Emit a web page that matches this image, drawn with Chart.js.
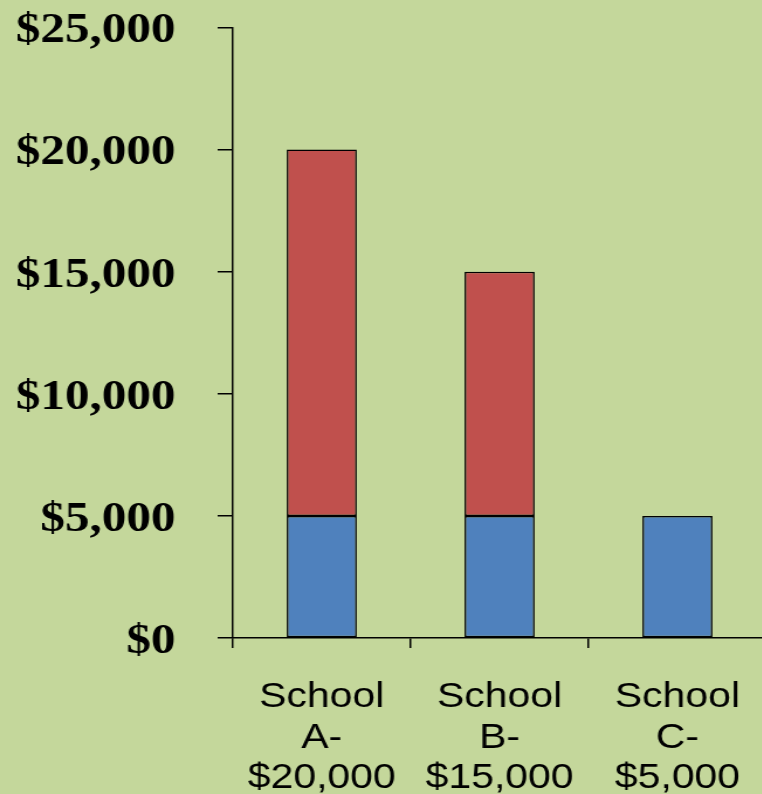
<!DOCTYPE html>
<html>
<head>
<meta charset="utf-8">
<script src="https://cdn.jsdelivr.net/npm/chart.js@4"></script>
<style>
    html, body { margin: 0; padding: 0; overflow: hidden; background: #c4d79b; }
    #wrap { width: 762px; height: 794px; overflow: hidden; }
    /* the original slide is stretched sideways, so the canvas is too */
    #chart { display: block; transform-origin: 0 0; transform: scaleX(1.17); }
</style>
</head>
<body>
<div id="wrap"><canvas id="chart" width="655" height="794"></canvas></div>
<script>
const categories = [['School', 'A-', '$20,000'], ['School', 'B-', '$15,000'], ['School', 'C-', '$5,000']];
const baseValues = [5000, 5000, 5000];
const extraValues = [15000, 10000, null];
const yTicks = [0, 5000, 10000, 15000, 20000, 25000];

const ctx = document.getElementById('chart').getContext('2d');
new Chart(ctx, {
    type: 'bar',
    data: {
        labels: categories,
        datasets: [{
            data: baseValues,
            backgroundColor: '#4f81bd',
            borderColor: '#000000',
            borderWidth: 1.5,
            borderSkipped: false
        }, {
            data: extraValues,
            backgroundColor: '#c0504d',
            borderColor: '#000000',
            borderWidth: 1.5,
            borderSkipped: false
        }]
    },
    options: {
        responsive: false,
        animation: false,
        barPercentage: 0.394,
        categoryPercentage: 1,
        layout: { padding: { top: 27.5, right: 0, bottom: 0, left: 0 } },
        scales: {
            x: {
                stacked: true,
                offset: true,
                grid: {
                    offset: true,
                    drawOnChartArea: false,
                    color: '#000000',
                    lineWidth: 1.5,
                    tickLength: 10
                },
                border: { color: '#000000', width: 1.5 },
                ticks: {
                    color: '#000000',
                    padding: 29,
                    maxRotation: 0,
                    autoSkip: false,
                    font: { family: '"Liberation Sans", Arial, sans-serif', size: 35, lineHeight: 1.16 }
                },
                afterFit: function (scale) {
                    scale.height = 156;
                    scale.paddingLeft = 0;
                    scale.paddingRight = 0;
                }
            },
            y: {
                stacked: true,
                min: 0,
                max: 25000,
                afterBuildTicks: function (scale) {
                    scale.ticks = yTicks.map(v => ({ value: v }));
                },
                grid: {
                    drawOnChartArea: false,
                    color: '#000000',
                    lineWidth: 1.5,
                    tickLength: 13
                },
                border: { color: '#000000', width: 1.5 },
                ticks: {
                    color: '#000000',
                    padding: 36,
                    labelOffset: 4,
                    font: { family: '"Liberation Serif", "Times New Roman", serif', size: 42, weight: 'bold', lineHeight: 1 },
                    callback: function (value) {
                        return '$' + Number(value).toLocaleString('en-US');
                    }
                },
                afterFit: function (scale) {
                    scale.width = 199;
                    scale.paddingTop = 0;
                    scale.paddingBottom = 0;
                }
            }
        },
        plugins: {
            legend: { display: false },
            tooltip: { enabled: false }
        }
    }
});
</script>
</body>
</html>
